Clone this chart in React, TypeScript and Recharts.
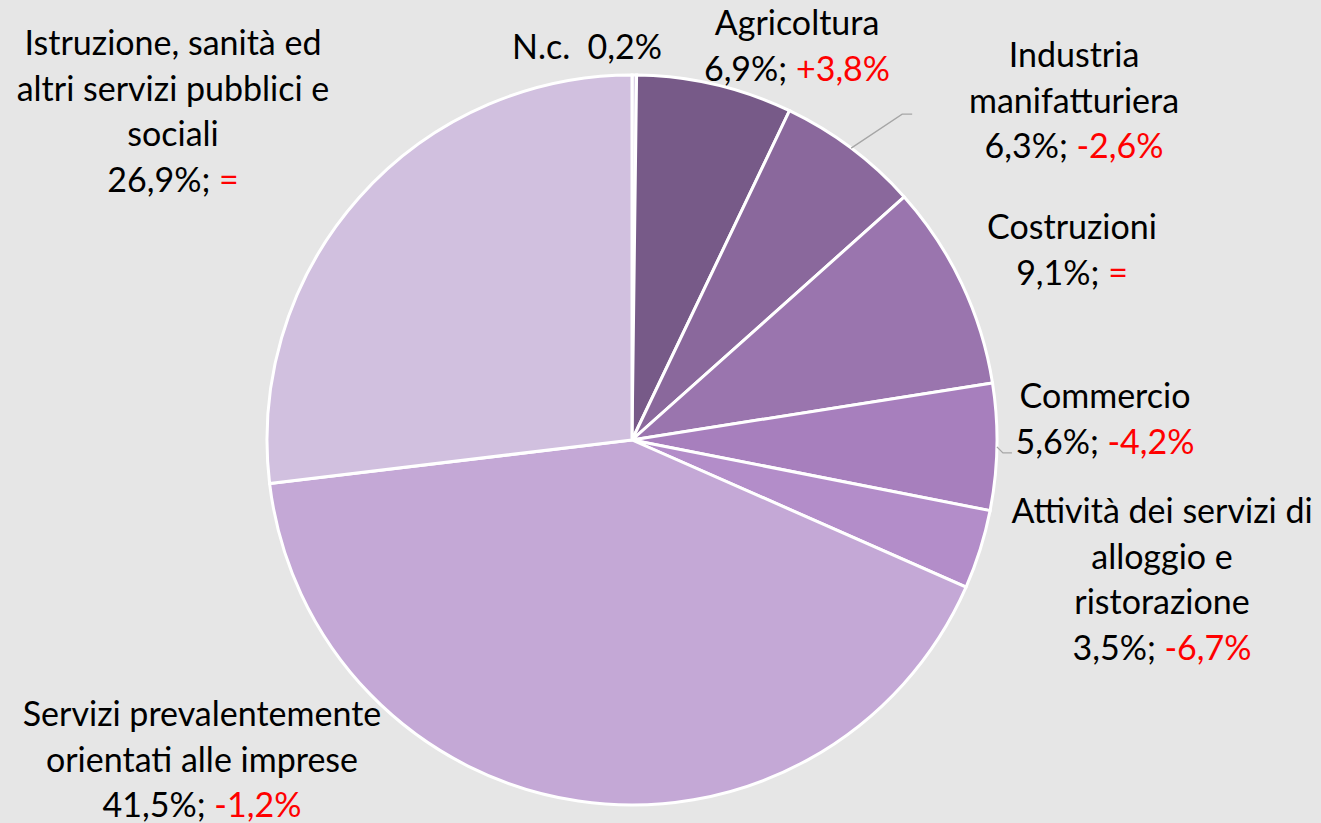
import { PieChart, Pie, Cell } from "recharts";

// settori, quote % e variazioni
const categories = [
  "N.c.",
  "Agricoltura",
  "Industria manifatturiera",
  "Costruzioni",
  "Commercio",
  "Attività dei servizi di alloggio e ristorazione",
  "Servizi prevalentemente orientati alle imprese",
  "Istruzione, sanità ed altri servizi pubblici e sociali",
];
const shares = [0.2, 6.9, 6.3, 9.1, 5.6, 3.5, 41.5, 26.9];
const changes = ["", "+3,8%", "-2,6%", "=", "-4,2%", "-6,7%", "-1,2%", "="];

// how each label is wrapped
const labelLines = [
  [],
  ["Agricoltura"],
  ["Industria", "manifatturiera"],
  ["Costruzioni"],
  ["Commercio"],
  ["Attività dei servizi di", "alloggio e", "ristorazione"],
  ["Servizi prevalentemente", "orientati alle imprese"],
  ["Istruzione, sanità ed", "altri servizi pubblici e", "sociali"],
];

const COLORS = [
  "#ddd2e8",
  "#775a88",
  "#8a689c",
  "#9a75ae",
  "#a77fbd",
  "#b38dc9",
  "#c4a8d6",
  "#d1c0df",
];

// label anchor offsets from the pie centre (centre x, first baseline)
const LABEL_POS = [
  { dx: -45, dy: -381 },
  { dx: 165, dy: -405 },
  { dx: 442, dy: -373 },
  { dx: 440, dy: -201 },
  { dx: 473, dy: -32 },
  { dx: 530, dy: 83 },
  { dx: -430, dy: 286 },
  { dx: -459, dy: -385 },
];
// leader lines: [elbow dx, elbow dy, end dx] relative to slice edge point
const LEADERS: Record<number, number[]> = {
  2: [51, -34, 61],
  4: [6, 6, 15],
};

const data = categories.map((name, i) => ({ name, value: shares[i] }));

const W = 1321;
const H = 823;
const CX = 632;
const CY = 440;
const R = 365;
const LH = 45.5;
const FONT = "Lato, 'Open Sans', sans-serif";

const fmt = (v: number) => v.toFixed(1).replace(".", ",") + "%";

const renderLabel = (props: any) => {
  const { cx, cy, index, midAngle, outerRadius } = props;
  const pos = LABEL_POS[index];
  const x = cx + pos.dx;
  const y = cy + pos.dy;
  const lines = labelLines[index];
  const rad = (-midAngle * Math.PI) / 180;
  const ex = cx + outerRadius * Math.cos(rad);
  const ey = cy + outerRadius * Math.sin(rad);
  const leader = LEADERS[index];
  return (
    <g key={`lbl-${index}`}>
      {leader && (
        <polyline
          points={`${ex},${ey} ${ex + leader[0]},${ey + leader[1]} ${ex + leader[2]},${ey + leader[1]}`}
          fill="none"
          stroke="#a6a6a6"
          strokeWidth={1.3}
        />
      )}
      <text
        x={x}
        y={y}
        textAnchor="middle"
        fontFamily={FONT}
        fontSize={34}
        fill="#000"
      >
        {lines.map((l, k) => (
          <tspan key={k} x={x} dy={k === 0 ? 0 : LH}>
            {l}
          </tspan>
        ))}
        {index === 0 ? (
          <tspan x={x} dy={0}>
            {categories[0] + "\u00a0 " + fmt(shares[0])}
          </tspan>
        ) : (
          <tspan x={x} dy={LH}>
            {fmt(shares[index]) + "; "}
            <tspan fill="#ff0000">{changes[index]}</tspan>
          </tspan>
        )}
      </text>
    </g>
  );
};

export default function App() {
  return (
    <div
      style={{
        position: "absolute",
        left: 0,
        top: 0,
        width: W,
        height: H,
        background: "#e6e6e6",
      }}
    >
      <PieChart width={W} height={H} margin={{ top: 0, right: 0, bottom: 0, left: 0 }}>
        <Pie
          data={data}
          dataKey="value"
          nameKey="name"
          cx={CX}
          cy={CY}
          outerRadius={R}
          startAngle={90}
          endAngle={-270}
          stroke="#ffffff"
          strokeWidth={3}
          label={renderLabel}
          labelLine={false}
          isAnimationActive={false}
        >
          {data.map((d, i) => (
            <Cell key={d.name} fill={COLORS[i]} />
          ))}
        </Pie>
      </PieChart>
    </div>
  );
}
